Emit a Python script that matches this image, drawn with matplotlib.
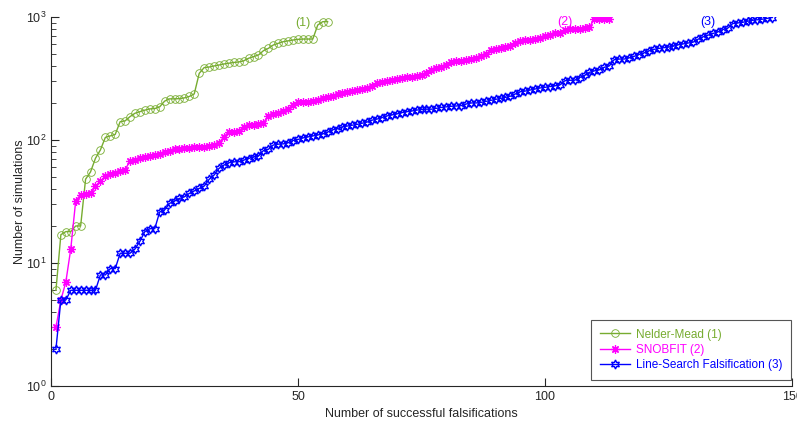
import matplotlib
matplotlib.use("Agg")
import matplotlib.pyplot as plt
from matplotlib.ticker import LogLocator, FixedLocator, NullFormatter

plt.rcParams['font.family'] = ['Liberation Sans', 'DejaVu Sans']

nelder_mead = [6, 17, 18, 18, 20, 20, 48, 55, 71, 83, 105, 108, 111, 141, 143, 155,
               165, 170, 175, 179, 180, 186, 207, 216, 216, 217, 220, 226, 237, 348,
               388, 392, 400, 407, 415, 421, 427, 431, 440, 462, 476, 491, 532, 556,
               592, 611, 630, 640, 650, 658, 662, 662, 662, 861, 916, 916]

snobfit = [3, 5, 7, 13, 32, 36, 36.5, 37, 42, 46, 51, 52.5, 53.6, 56, 57.5, 67.5,
           68.8, 71, 73, 74, 75, 77, 80, 82, 84, 85, 86, 86.6, 87, 88, 88, 89.6,
           91, 95, 106, 117, 117, 118, 128, 132, 132, 135, 138, 157, 162, 166, 172,
           180, 192, 202, 203, 205, 208, 213, 220, 224, 228, 235, 240, 245, 250,
           255, 258, 265, 275, 288, 295, 302, 308, 315, 320, 324, 328, 332, 340,
           350, 372, 385, 395, 405, 428, 435, 440, 448, 458, 466, 478, 500, 535,
           545, 555, 568, 580, 620, 635, 645, 655, 665, 680, 695, 715, 735, 745,
           780, 795, 800, 805, 812, 825, 965, 968, 970, 970]

line_search = [2, 5, 5, 6, 6, 6, 6, 6, 6, 8, 8, 9, 9, 12, 12, 12, 13, 15, 18, 19,
               19, 26, 27, 30.5, 32, 33.5, 34.5, 36.8, 38.6, 40.4, 42.2, 47.8, 51.8,
               58.7, 62.5, 65.3, 66.5, 66.5, 68.5, 70.7, 73, 74, 82, 84, 91, 92.5,
               93, 95, 99, 101, 104, 106, 108, 110, 112, 116, 121, 124, 128, 130,
               132, 134, 137, 140, 145, 148, 152, 157, 160, 163, 167, 170, 172, 175,
               177, 178, 178, 181, 184, 186, 188, 189, 190, 196, 200, 200, 202, 206,
               210, 214, 218, 222, 227, 237, 247, 250, 255, 260, 265, 268, 272, 276,
               280, 303, 306, 306, 322, 335, 355, 365, 372, 390, 400, 450, 455, 455,
               465, 478, 495, 510, 530, 545, 555, 562, 570, 580, 595, 605, 615, 625,
               660, 690, 712, 735, 757, 790, 812, 885, 895, 905, 925, 940, 950, 960,
               975, 990]

series_names = ['Nelder-Mead (1)', 'SNOBFIT (2)', 'Line-Search Falsification (3)']
series_tags = ['(1)', '(2)', '(3)']
tag_x = [51, 104, 133]
tag_y = [900, 910, 910]
x_ticks = [0, 50, 100, 150]

green = '#77AC30'
magenta = '#FF00FF'
blue = '#0000FF'
axis_col = '#262626'

fig = plt.figure(figsize=(7.97, 4.28), dpi=100)
ax = fig.add_axes([51/797, 42/428, 741/797, 369/428])

ax.plot(range(1, len(nelder_mead) + 1), nelder_mead, color=green, lw=1.0,
        marker='o', ms=5.5, mfc='none', mec=green, mew=0.6, label=series_names[0])
ax.plot(range(1, len(snobfit) + 1), snobfit, color=magenta, lw=1.0,
        marker=(8, 2, 0), ms=6, mfc=magenta, mec=magenta, mew=0.9, label=series_names[1])
ax.plot(range(1, len(line_search) + 1), line_search, color=blue, lw=1.0,
        marker=(6, 1, 0), ms=6.5, mfc='none', mec=blue, mew=1.0, label=series_names[2])

for t, xx, yy, c in zip(series_tags, tag_x, tag_y, [green, magenta, blue]):
    ax.text(xx, yy, t, color=c, fontsize=9, ha='center', va='center')

ax.set_yscale('log')
ax.set_xlim(0, 150)
ax.set_ylim(1, 1000)
ax.xaxis.set_major_locator(FixedLocator(x_ticks))
ax.yaxis.set_major_locator(LogLocator(base=10, numticks=10))
ax.yaxis.set_minor_locator(LogLocator(base=10, subs=range(2, 10), numticks=20))
ax.yaxis.set_minor_formatter(NullFormatter())

for s in ['top', 'right']:
    ax.spines[s].set_visible(False)
for s in ['left', 'bottom']:
    ax.spines[s].set_color(axis_col)
    ax.spines[s].set_linewidth(0.8)
ax.tick_params(which='both', direction='in', colors=axis_col, labelsize=9,
               top=False, right=False)
ax.tick_params(which='major', length=6, width=0.8)
ax.tick_params(which='minor', length=3.5, width=0.6)

ax.set_xlabel('Number of successful falsifications', fontsize=9, color=axis_col, labelpad=4)
ax.set_ylabel('Number of simulations', fontsize=9, color=axis_col, labelpad=0)

leg = ax.legend(loc='lower right', bbox_to_anchor=(0.9985, 0.016), borderaxespad=0,
                fontsize=8.5, frameon=True, fancybox=False, edgecolor='#555555',
                framealpha=1, handlelength=2.6, borderpad=0.75, labelspacing=0.28,
                handletextpad=0.45)
leg.get_frame().set_linewidth(0.8)
for txt, c in zip(leg.get_texts(), [green, magenta, blue]):
    txt.set_color(c)

fig.savefig('out.png', dpi=100)
